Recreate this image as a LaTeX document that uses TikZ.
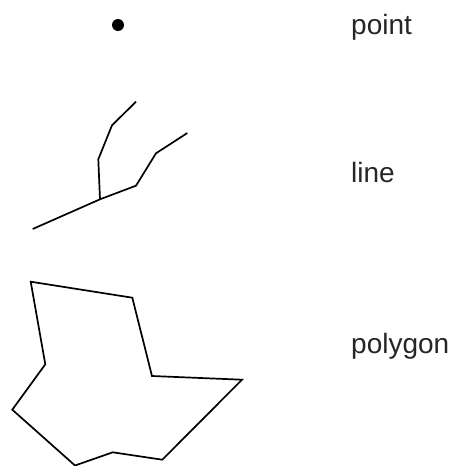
\documentclass[tikz,border=0pt]{standalone}
\usepackage{fontspec}
\setmainfont{Liberation Sans}
\begin{document}
\begin{tikzpicture}[x=1pt,y=-1pt,
  shape line/.style={line width=1.7pt, line join=miter, black},
  label text/.style={anchor=base west, inner sep=0pt, text=black!85,
    font=\fontsize{28}{33}\selectfont}]
\useasboundingbox (0,0) rectangle (454,466);
% point
\fill[black] (118,25) circle (6);
\node[label text] (lpoint) at (351,34.3) {point};
% line
\coordinate (a0) at (32.7,229);
\coordinate (a1) at (100,199.3);
\coordinate (a2) at (136,185.7);
\coordinate (a3) at (156,153.3);
\coordinate (a4) at (187.3,133);
\coordinate (b1) at (98.3,159.3);
\coordinate (b2) at (112,125.3);
\coordinate (b3) at (136,101.7);
\draw[shape line] (a0) -- (a1) -- (a2) -- (a3) -- (a4);
\draw[shape line] (a1) -- (b1) -- (b2) -- (b3);
\node[label text] (lline) at (351,182.3) {line};
% polygon
\coordinate (p1) at (30.7,281.7);
\coordinate (p2) at (132.3,297.7);
\coordinate (p3) at (152,376);
\coordinate (p4) at (242,379.7);
\coordinate (p5) at (162.3,459.7);
\coordinate (p6) at (112.7,452.3);
\coordinate (p7) at (75,465.5);
\coordinate (p8) at (12.3,409.7);
\coordinate (p9) at (45.3,364.3);
\draw[shape line] (p1) -- (p2) -- (p3) -- (p4) -- (p5) -- (p6) -- (p7) -- (p8) -- (p9) -- cycle;
\node[label text] (lpoly) at (351,353) {polygon};
\end{tikzpicture}
\end{document}
